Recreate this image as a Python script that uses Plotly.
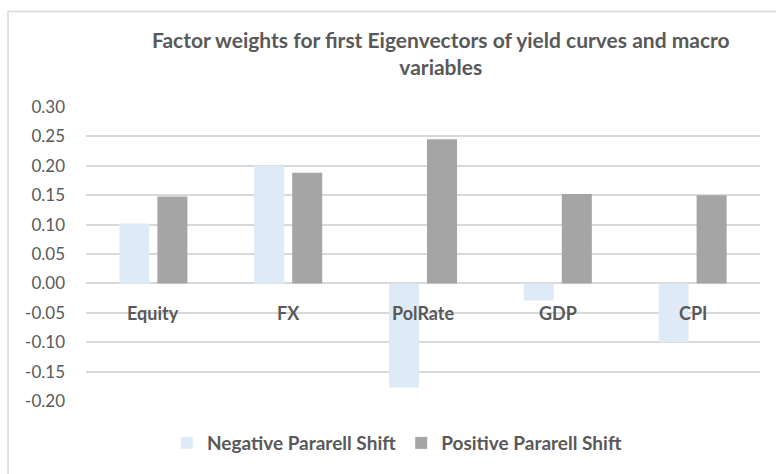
import plotly.graph_objects as go

# data
categories = ["Equity", "FX", "PolRate", "GDP", "CPI"]
negative_shift = [0.102, 0.200, -0.177, -0.029, -0.100]
positive_shift = [0.148, 0.188, 0.245, 0.152, 0.150]
y_ticks = [0.30, 0.25, 0.20, 0.15, 0.10, 0.05, 0.00, -0.05, -0.10, -0.15, -0.20]
y_tick_labels = [f"{v:.2f}" for v in y_ticks]  # plain hyphen minus, as in the original

title_text = "Factor weights for first Eigenvectors of yield curves and macro<br>variables"
font_name = "Lato"
text_grey = "#595959"
grid_grey = "#d9d9d9"

fig = go.Figure()
fig.add_trace(go.Bar(
    x=categories, y=negative_shift, name="<b>Negative Pararell Shift</b>",
    marker=dict(color="#deebf7", line=dict(width=0)),
))
fig.add_trace(go.Bar(
    x=categories, y=positive_shift, name="<b>Positive Pararell Shift</b>",
    marker=dict(color="#a5a5a5", line=dict(width=0)),
))

# category labels sit just below the zero line, inside the plot
for c in categories:
    fig.add_annotation(
        x=c, y=0, xref="x", yref="y", text=f"<b>{c}</b>", showarrow=False,
        yanchor="middle", yshift=-30,
        font=dict(family=font_name, size=18, color=text_grey),
    )

# chart frame
fig.add_shape(
    type="rect", xref="paper", yref="paper",
    x0=-0.1157, x1=1.05, y0=-0.30, y1=1.325,
    line=dict(color=grid_grey, width=1.5), fillcolor="rgba(0,0,0,0)",
)

fig.update_layout(
    width=776, height=474,
    paper_bgcolor="white", plot_bgcolor="white",
    margin=dict(l=86, r=16, t=107, b=68),
    barmode="group", bargap=0.436, bargroupgap=0.21,
    title=dict(
        text=f"<b>{title_text}</b>", x=0.568, xanchor="center",
        y=1 - 48 / 474, yanchor="middle",
        font=dict(family=font_name, size=21, color=text_grey),
    ),
    xaxis=dict(showticklabels=False, showgrid=False, showline=False, zeroline=False),
    yaxis=dict(
        range=[-0.20, 0.30], tickvals=y_ticks, ticktext=y_tick_labels,
        showgrid=True, gridcolor=grid_grey, gridwidth=1.5,
        zeroline=False, showline=False, ticks="", ticklen=0,
        tickfont=dict(family=font_name, size=17, color=text_grey),
        ticklabelstandoff=20,
    ),
    legend=dict(
        orientation="h", x=0.462, xanchor="center", y=-0.143, yanchor="middle",
        font=dict(family=font_name, size=19, color=text_grey),
        itemsizing="constant", itemwidth=30, traceorder="normal",
    ),
    showlegend=True,
)

# drop the browser's default 8px body margin so the figure sits at the page corner
fig.write_html(
    "out.html",
    config={"displayModeBar": False},
    post_script="document.body.style.margin='0';",
)
